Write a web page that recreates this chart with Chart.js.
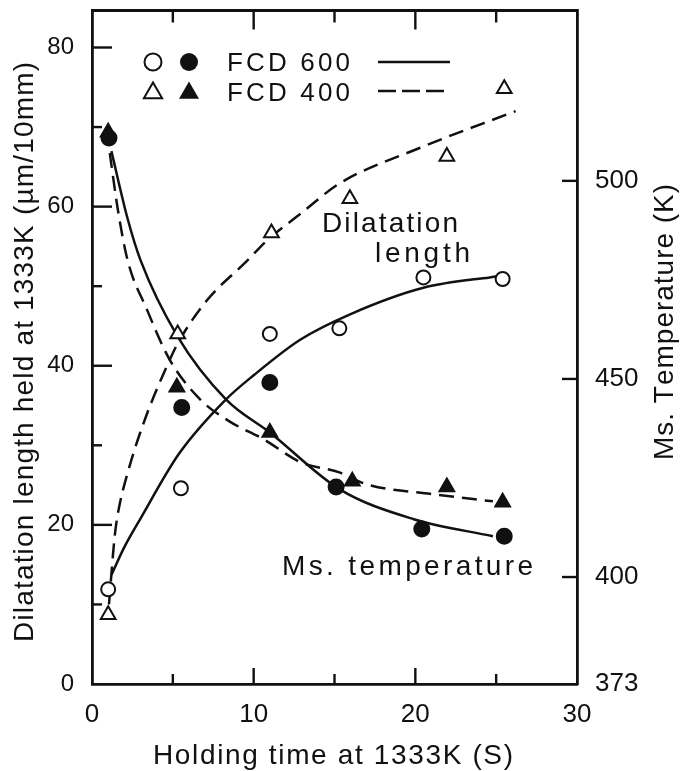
<!DOCTYPE html>
<html>
<head>
<meta charset="utf-8">
<script src="https://cdn.jsdelivr.net/npm/chart.js@4.4.1/dist/chart.umd.min.js"></script>
<style>
  html, body { margin: 0; padding: 0; background: #fff; }
  canvas { display: block; }
</style>
</head>
<body>
<canvas id="chart" width="680" height="771"></canvas>
<script>
// Dilatation / Ms temperature vs holding time at 1333K
const FONT = "'Liberation Sans', Arial, Helvetica, sans-serif";
const INK  = "#111";

// axis ticks
const xTicks      = [0, 10, 20, 30];
const xMinor      = [5, 15, 25];
const yLeftTicks  = [0, 20, 40, 60, 80];
const yLeftMinor  = [10, 30, 50, 70];
const yRightTicks = [373, 400, 450, 500];

// measured points, FCD 600
const fcd600DilX = [1.0, 5.5, 11.0, 15.3, 20.5, 25.4];
const fcd600DilY = [11.9, 24.6, 44.0, 44.7, 51.1, 50.9];
const fcd600MsX  = [1.05, 5.55, 11.0, 15.1, 20.4, 25.5];
const fcd600MsK  = [510.8, 442.8, 449.1, 422.7, 412.1, 410.3];

// measured points, FCD 400
const fcd400DilX = [1.0, 5.3, 11.1, 15.95, 21.95, 25.5];
const fcd400DilY = [8.7, 44.0, 56.7, 61.0, 66.3, 74.8];
const fcd400MsX  = [1.0, 5.25, 11.0, 16.1, 21.95, 25.4];
const fcd400MsK  = [512.3, 447.9, 436.5, 424.2, 422.7, 418.9];

// fitted curves
const fit600DilX = [1.2, 2.0, 3.0, 5.4, 8.2, 10.0, 12.9, 16.0, 20.5, 24.6, 25.5];
const fit600DilY = [13.7, 17.2, 20.8, 29.0, 35.6, 38.8, 43.3, 46.5, 49.8, 51.1, 51.3];
const fit400DilX = [1.05, 1.4, 1.6, 2.2, 3.3, 4.6, 5.3, 7.1, 9.6, 10.8, 12.9, 15.3, 20.3, 26.2];
const fit400DilY = [10.0, 18.5, 21.4, 26.5, 33.4, 39.8, 42.8, 48.2, 53.2, 55.7, 59.1, 62.9, 67.4, 72.0];
const fit600MsX  = [1.2, 2.2, 3.0, 5.3, 8.3, 11.0, 15.3, 19.9, 24.8];
const fit600MsK  = [507.5, 490.5, 480.0, 460.7, 444.8, 436.5, 422.2, 414.6, 410.3];
const fit400MsX  = [1.1, 1.6, 2.2, 3.4, 4.8, 6.7, 8.5, 10.6, 12.9, 15.3, 17.0, 21.1, 24.8];
const fit400MsK  = [507.0, 492.7, 480.0, 467.5, 454.9, 444.8, 439.3, 434.8, 429.0, 426.4, 423.4, 420.9, 419.1];

const zip = (xs, ys) => xs.map((x, i) => ({ x, y: ys[i] }));

function pts(label, xs, ys, axis, style, filled, r) {
  return {
    label, data: zip(xs, ys), yAxisID: axis, showLine: false,
    pointStyle: style, pointRadius: r, pointHoverRadius: r,
    pointBackgroundColor: filled ? INK : "#fff", pointBorderColor: INK, pointBorderWidth: 2
  };
}
function fit(label, xs, ys, axis, dash) {
  return {
    label, data: zip(xs, ys), yAxisID: axis, showLine: true, pointRadius: 0,
    borderColor: INK, borderWidth: 2.5, borderDash: dash, cubicInterpolationMode: "monotone", fill: false
  };
}

// fixed box sizes so the plot frame lands where the original one is
function fixBox(size) {
  return s => {
    if (s.isHorizontal()) s.height = size; else s.width = size;
    s.paddingTop = 0; s.paddingBottom = 0; s.paddingLeft = 0; s.paddingRight = 0;
  };
}

// text stretched across a given width (the original lettering is widely spaced)
function spaced(ctx, text, x, y, width) {
  const chars = [...text];
  const gap = (width - ctx.measureText(text).width) / (chars.length - 1);
  let cx = x;
  for (const ch of chars) { ctx.fillText(ch, cx, y); cx += ctx.measureText(ch).width + gap; }
}

const decor = {
  id: "decor",
  afterDraw(chart) {
    const { ctx, chartArea: a, scales } = chart;
    const line = (x1, y1, x2, y2) => { ctx.beginPath(); ctx.moveTo(x1, y1); ctx.lineTo(x2, y2); ctx.stroke(); };
    const T = 2.4; // tick thickness
    const vTick = (x, y0, len) => ctx.fillRect(x - T / 2, Math.min(y0, y0 + len), T, Math.abs(len));
    const hTick = (y, x0, len) => ctx.fillRect(Math.min(x0, x0 + len), y - T / 2, Math.abs(len), T);
    ctx.save();
    ctx.setLineDash([]);
    ctx.strokeStyle = INK;
    ctx.fillStyle = INK;

    // top frame line
    ctx.lineWidth = 2.8;
    line(a.left, a.top, a.right, a.top);

    // inward tick marks
    xTicks.slice(1, -1).forEach(v => {
      const p = scales.x.getPixelForValue(v);
      vTick(p, a.bottom, -16);
      vTick(p, a.top, 19);
    });
    xMinor.forEach(v => {
      const p = scales.x.getPixelForValue(v);
      vTick(p, a.bottom, -10);
      vTick(p, a.top, 12);
    });
    yLeftTicks.slice(1).forEach(v => hTick(scales.y.getPixelForValue(v), a.left, 20));
    yLeftMinor.forEach(v => hTick(scales.y.getPixelForValue(v), a.left, 10));
    yRightTicks.slice(1).forEach(v => hTick(scales.y2.getPixelForValue(v), a.right, -15));

    // axis titles
    ctx.textBaseline = "alphabetic";
    ctx.textAlign = "left";
    ctx.font = "28px " + FONT;
    spaced(ctx, "Holding time at 1333K (S)", 153, 764, 360);
    ctx.save(); ctx.translate(33, 642); ctx.rotate(-Math.PI / 2);
    spaced(ctx, "Dilatation length held at 1333K (µm/10mm)", 0, 0, 580);
    ctx.restore();
    ctx.save(); ctx.translate(673, 460); ctx.rotate(-Math.PI / 2);
    spaced(ctx, "Ms. Temperature (K)", 0, 0, 273);
    ctx.restore();

    // curve labels
    ctx.font = "28px " + FONT;
    spaced(ctx, "Dilatation", 322, 232, 136);
    spaced(ctx, "length", 375, 262, 95);
    spaced(ctx, "Ms. temperature", 282, 575, 251);

    // legend
    ctx.font = "26px " + FONT;
    spaced(ctx, "FCD 600", 227, 71, 123);
    spaced(ctx, "FCD 400", 227, 101, 123);
    ctx.lineWidth = 2;
    ctx.beginPath(); ctx.arc(153, 62, 8.5, 0, Math.PI * 2); ctx.stroke();
    ctx.beginPath(); ctx.arc(189, 62, 9, 0, Math.PI * 2); ctx.fill();
    const tri = (cx, cy, r, filled) => {
      ctx.beginPath();
      ctx.moveTo(cx, cy - r);
      ctx.lineTo(cx + r * 0.87, cy + r * 0.5);
      ctx.lineTo(cx - r * 0.87, cy + r * 0.5);
      ctx.closePath();
      filled ? ctx.fill() : ctx.stroke();
    };
    tri(153, 93, 10.5, false);
    tri(189, 93, 11.5, true);
    ctx.lineWidth = 2.6;
    line(378, 62, 450, 62);
    ctx.setLineDash([18, 6]);
    line(378, 91, 450, 91);
    ctx.restore();
  }
};

new Chart(document.getElementById("chart"), {
  type: "line",
  data: {
    datasets: [
      pts("FCD 600 dilatation", fcd600DilX, fcd600DilY, "y",  "circle",   false, 7),
      pts("FCD 400 dilatation", fcd400DilX, fcd400DilY, "y",  "triangle", false, 8.5),
      pts("FCD 600 Ms",         fcd600MsX,  fcd600MsK,  "y2", "circle",   true,  7.5),
      pts("FCD 400 Ms",         fcd400MsX,  fcd400MsK,  "y2", "triangle", true,  8.5),
      fit("FCD 600 dilatation fit", fit600DilX, fit600DilY, "y",  []),
      fit("FCD 400 dilatation fit", fit400DilX, fit400DilY, "y",  [15, 8]),
      fit("FCD 600 Ms fit",         fit600MsX,  fit600MsK,  "y2", []),
      fit("FCD 400 Ms fit",         fit400MsX,  fit400MsK,  "y2", [15, 8])
    ]
  },
  options: {
    responsive: false,
    animation: false,
    layout: { padding: { top: 10, left: 0, right: 0, bottom: 0 } },
    plugins: { legend: { display: false }, tooltip: { enabled: false } },
    scales: {
      x: {
        type: "linear", position: "bottom", min: 0, max: 30,
        afterBuildTicks: s => { s.ticks = xTicks.map(v => ({ value: v })); },
        afterFit: fixBox(87),
        grid: { display: false },
        border: { display: true, width: 2.8, color: INK },
        ticks: { color: INK, font: { family: FONT, size: 26 }, padding: 7, maxRotation: 0, autoSkip: false }
      },
      y: {
        type: "linear", position: "left", min: 0, max: 84.65,
        afterBuildTicks: s => { s.ticks = yLeftTicks.map(v => ({ value: v })); },
        afterFit: fixBox(92),
        grid: { display: false },
        border: { display: true, width: 2.8, color: INK },
        ticks: { color: INK, font: { family: FONT, size: 24 }, padding: 10, autoSkip: false }
      },
      y2: {
        type: "linear", position: "right", min: 373, max: 543,
        afterBuildTicks: s => { s.ticks = yRightTicks.map(v => ({ value: v })); },
        afterFit: fixBox(103),
        grid: { display: false },
        border: { display: true, width: 2.8, color: INK },
        ticks: { color: INK, font: { family: FONT, size: 26 }, padding: 10, autoSkip: false }
      }
    }
  },
  plugins: [decor]
});
</script>
</body>
</html>
